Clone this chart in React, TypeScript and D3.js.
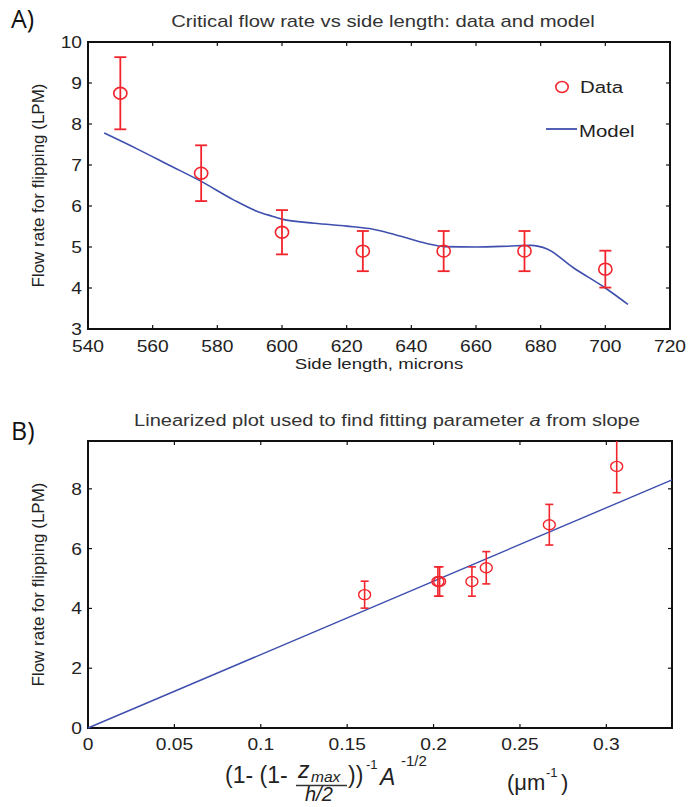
import React from "react";
import * as d3 from "d3";

// ---------- Data ----------
const sideLength = [550, 575, 600, 625, 650, 675, 700];
const flowRate = [8.75, 6.8, 5.36, 4.9, 4.9, 4.9, 4.46];
const flowErr = [0.88, 0.68, 0.54, 0.49, 0.49, 0.49, 0.45];

const modelX = [545, 555, 565, 575, 585, 592, 597, 600, 610, 620, 627, 635, 645, 650, 660, 670, 677, 682, 690, 700, 707];
const modelY = [7.78, 7.4, 7.0, 6.6, 6.15, 5.88, 5.75, 5.68, 5.58, 5.51, 5.45, 5.3, 5.08, 5.01, 5.0, 5.02, 5.04, 4.95, 4.5, 4.0, 3.6];

const linX = [0.306, 0.267, 0.2305, 0.2222, 0.2025, 0.2035, 0.1601];
const linFitX = [0, 0.338];
const linFitY = [0, 8.3];

const topXTicks = [540, 560, 580, 600, 620, 640, 660, 680, 700, 720];
const topYTicks = [3, 4, 5, 6, 7, 8, 9, 10];
const botXTicks = [0, 0.05, 0.1, 0.15, 0.2, 0.25, 0.3];
const botYTicks = [0, 2, 4, 6, 8];

const RED = "#f2252c";
const BLUE = "#3f4fae";
const FONT = "'Liberation Sans', Arial, Helvetica, sans-serif";
const SX = 1.2; // horizontal stretch of the reference's text

function T({ x, y, anchor = "start", size, sx = SX, fill = "#222", children }: any) {
  return (
    <text transform={`translate(${x},${y}) scale(${sx},1)`} textAnchor={anchor} fontSize={size} fill={fill}>
      {children}
    </text>
  );
}

function Frame({ x, y, tx, ty, tl }: any) {
  const [x0, x1] = x.range();
  const [y0, y1] = y.range(); // y0 bottom, y1 top
  return (
    <g>
      {tx.map((t: number) => (
        <g key={"x" + t}>
          <line x1={x(t)} x2={x(t)} y1={y0} y2={y0 - tl} stroke="#111" strokeWidth={1.2} />
          <line x1={x(t)} x2={x(t)} y1={y1} y2={y1 + tl} stroke="#111" strokeWidth={1.2} />
        </g>
      ))}
      {ty.map((t: number) => (
        <g key={"y" + t}>
          <line x1={x0} x2={x0 + tl} y1={y(t)} y2={y(t)} stroke="#111" strokeWidth={1.2} />
          <line x1={x1} x2={x1 - tl} y1={y(t)} y2={y(t)} stroke="#111" strokeWidth={1.2} />
        </g>
      ))}
      <rect x={x0} y={y1} width={x1 - x0} height={y0 - y1} fill="none" stroke="#111" strokeWidth={2} />
    </g>
  );
}

export default function App() {
  const xA = d3.scaleLinear().domain([540, 720]).range([88, 670]);
  const yA = d3.scaleLinear().domain([3, 10]).range([329, 42]);
  const xB = d3.scaleLinear().domain([0, 0.338]).range([88, 672]);
  const yB = d3.scaleLinear().domain([0, 9.6]).range([728, 441]);

  const modelLine = d3
    .line<number>()
    .x((_, i) => xA(modelX[i]))
    .y((d) => yA(d))
    .curve(d3.curveMonotoneX)(modelY);

  const fitLine = d3
    .line<number>()
    .x((_, i) => xB(linFitX[i]))
    .y((d) => yB(d))(linFitY);

  const yTopClip = yB.range()[1];

  return (
    <svg width={688} height={807} style={{ display: "block", position: "absolute", left: 0, top: 0, background: "#fff" }} fontFamily={FONT}>
      <rect width={688} height={807} fill="#fff" />
      {/* Panel labels */}
      <text x={11} y={28} fontSize={25} fill="#111" fontFamily="'Open Sans', 'Noto Sans', sans-serif">A)</text>
      <text x={11} y={440} fontSize={25} fill="#111" fontFamily="'Open Sans', 'Noto Sans', sans-serif">B)</text>

      {/* ---------- Top chart ---------- */}
      <T x={383} y={27} anchor="middle" size={17} sx={1.19} fill="#333">Critical flow rate vs side length: data and model</T>
      <Frame x={xA} y={yA} tx={topXTicks} ty={topYTicks} tl={4} />
      {topXTicks.map((t) => (
        <T key={t} x={xA(t)} y={352} anchor="middle" size={16}>{t}</T>
      ))}
      {topYTicks.map((t) => (
        <T key={t} x={82} y={yA(t) + 6} anchor="end" size={16}>{t}</T>
      ))}
      <T x={379} y={369} anchor="middle" size={15.5}>Side length, microns</T>
      <text transform={`translate(44,${yA(6.5)}) rotate(-90)`} textAnchor="middle" fontSize={17} fill="#222">Flow rate for flipping (LPM)</text>

      <path d={modelLine || ""} fill="none" stroke={BLUE} strokeWidth={1.6} />
      {sideLength.map((s, i) => {
        const cx = xA(s);
        const cy = yA(flowRate[i]);
        const t = yA(flowRate[i] + flowErr[i]);
        const b = yA(flowRate[i] - flowErr[i]);
        return (
          <g key={s} stroke={RED} strokeWidth={1.8} fill="none">
            <line x1={cx} x2={cx} y1={t} y2={b} />
            <line x1={cx - 6} x2={cx + 6} y1={t} y2={t} />
            <line x1={cx - 6} x2={cx + 6} y1={b} y2={b} />
            <ellipse cx={cx} cy={cy} rx={6.6} ry={5.9} strokeWidth={1.6} />
          </g>
        );
      })}
      {/* Legend */}
      <ellipse cx={562} cy={87} rx={6.2} ry={5.5} fill="none" stroke={RED} strokeWidth={1.6} />
      <T x={580} y={93} size={17}>Data</T>
      <line x1={546} x2={577} y1={129} y2={129} stroke={BLUE} strokeWidth={1.8} />
      <T x={579} y={137} size={17}>Model</T>

      {/* ---------- Bottom chart ---------- */}
      <T x={387} y={426} anchor="middle" size={17} sx={1.18} fill="#333">
        Linearized plot used to find fitting parameter <tspan fontStyle="italic">a</tspan> from slope
      </T>
      <Frame x={xB} y={yB} tx={botXTicks} ty={botYTicks} tl={4} />
      {botXTicks.map((t) => (
        <T key={t} x={xB(t)} y={750} anchor="middle" size={16}>{String(t)}</T>
      ))}
      {botYTicks.map((t) => (
        <T key={t} x={82} y={yB(t) + 6} anchor="end" size={16}>{t}</T>
      ))}
      <text transform={`translate(44,${yB(4.8)}) rotate(-90)`} textAnchor="middle" fontSize={17} fill="#222">Flow rate for flipping (LPM)</text>

      <path d={fitLine || ""} fill="none" stroke={BLUE} strokeWidth={1.4} />
      {linX.map((lx, i) => {
        const cx = xB(lx);
        const cy = yB(flowRate[i]);
        const t = Math.max(yB(flowRate[i] + flowErr[i]), yTopClip);
        const b = yB(flowRate[i] - flowErr[i]);
        const clipped = yB(flowRate[i] + flowErr[i]) < yTopClip;
        return (
          <g key={i} stroke={RED} strokeWidth={1.6} fill="none">
            <line x1={cx} x2={cx} y1={t} y2={b} />
            {!clipped && <line x1={cx - 4} x2={cx + 4} y1={t} y2={t} />}
            <line x1={cx - 4} x2={cx + 4} y1={b} y2={b} />
            <ellipse cx={cx} cy={cy} rx={6} ry={5} strokeWidth={1.4} />
          </g>
        );
      })}

      {/* X axis label (formula) */}
      <g fill="#222">
        <text x={225} y={783} fontSize={23}>(1- (1-</text>
        <text x={298} y={778} fontStyle="italic" fontSize={23}>z</text>
        <text x={311} y={782} fontStyle="italic" fontSize={15.5}>max</text>
        <line x1={296} x2={347} y1={785.5} y2={785.5} stroke="#333" strokeWidth={1.3} />
        <text x={305} y={801} fontStyle="italic" fontSize={20}>h/2</text>
        <text x={348} y={783} fontSize={23}>))</text>
        <text x={366} y={769} fontSize={13}>-1</text>
        <text x={380} y={785} fontStyle="italic" fontSize={23}>A</text>
        <text x={401} y={766} fontSize={15}>-1/2</text>
        <text x={507} y={790} fontSize={22}>(μm</text>
        <text x={546} y={777} fontSize={13}>-1</text>
        <text x={561} y={790} fontSize={22}>)</text>
      </g>
    </svg>
  );
}
